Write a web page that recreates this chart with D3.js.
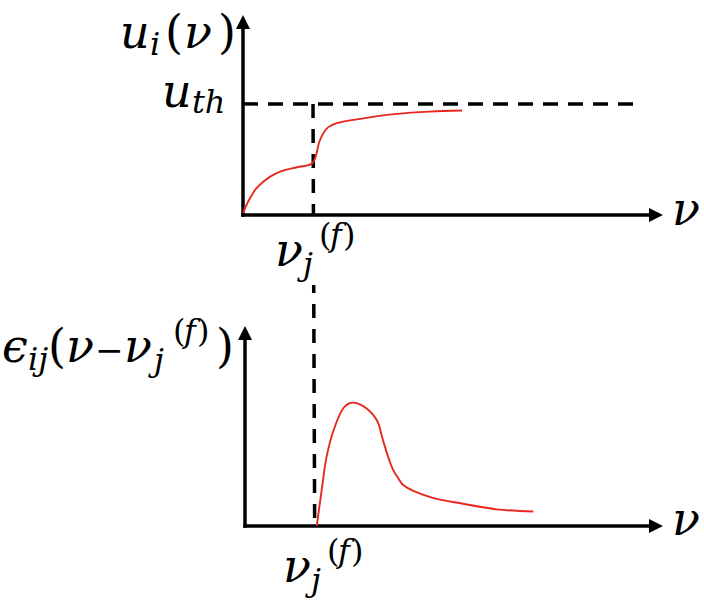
<!DOCTYPE html>
<html>
<head>
<meta charset="utf-8">
<script src="https://cdn.jsdelivr.net/npm/d3@7"></script>
<style>
  html, body { margin: 0; padding: 0; background: #fff; }
  svg { display: block; }
</style>
</head>
<body>
<svg id="chart" width="704" height="612"></svg>
<script>
// top panel: membrane potential u_i(nu)
const topNu = [0, 0.05, 0.1, 0.19, 0.29, 0.4, 0.53, 0.77, 0.98, 1.03, 1.1, 1.2, 1.34, 1.72, 2.2, 2.67, 3.13];
const topU = [0.02, 0.09, 0.15, 0.24, 0.3, 0.35, 0.39, 0.43, 0.46, 0.51, 0.675, 0.78, 0.826, 0.87, 0.91, 0.93, 0.94];

// bottom panel: kernel eps_ij(nu - nu_j^(f))
const botNu = [1.03, 1.1, 1.17, 1.27, 1.41, 1.48, 1.56, 1.65, 1.75, 1.84, 1.91, 1.96, 2.01, 2.07, 2.13, 2.2, 2.27, 2.66, 3.13, 3.61, 4.14];
const botEps = [0, 0.32, 0.62, 0.86, 1.06, 1.1, 1.11, 1.095, 1.055, 1.0, 0.93, 0.82, 0.71, 0.595, 0.50, 0.43, 0.37, 0.26, 0.20, 0.15, 0.13];

const uTh = 1;        // threshold level
const nuF = 1;        // firing time nu_j^(f)
const thEnd = 5.67;   // where the dashed threshold line stops
const nuMax = 6, yMax = 1.8;

const red = "#e8281e";
const mathFont = "DejaVu Serif";

var svg = d3.select("#chart");
var gGuides = svg.append("g");
var gMask = svg.append("g");
var gAxes = svg.append("g");
var gCurves = svg.append("g");
var gLabels = svg.append("g").style("font-family", mathFont);

var xTop = d3.scaleLinear([0, nuMax], [243, 663]);
var yTop = d3.scaleLinear([0, yMax], [215, 15]);
var xBot = d3.scaleLinear([0, nuMax], [245, 663]);
var yBot = d3.scaleLinear([0, yMax], [526, 326]);

// dashed guides
gGuides.attr("stroke", "#000").attr("stroke-width", 3.5).attr("fill", "none");

gGuides.append("line")
  .attr("x1", xTop(0)).attr("y1", yTop(uTh))
  .attr("x2", xTop(thEnd)).attr("y2", yTop(uTh))
  .attr("stroke-dasharray", "15,10");

gGuides.append("line")
  .attr("x1", xTop(nuF)).attr("y1", yTop(uTh))
  .attr("x2", xBot(nuF)).attr("y2", yBot(0))
  .attr("stroke-dasharray", "14,11");

// axes with arrow heads
function drawAxes(x, y) {
  var g = gAxes.append("g");
  var head = 14, half = 7;
  g.append("line")
    .attr("x1", x(0)).attr("y1", y(0) + 1.75)
    .attr("x2", x(0)).attr("y2", y(yMax) + head - 1)
    .attr("stroke", "#000").attr("stroke-width", 3.5);
  g.append("line")
    .attr("x1", x(0) - 1.75).attr("y1", y(0))
    .attr("x2", x(nuMax) - head + 1).attr("y2", y(0))
    .attr("stroke", "#000").attr("stroke-width", 3.5);
  g.append("path")
    .attr("d", `M${x(0)},${y(yMax)} L${x(0) - half},${y(yMax) + head} L${x(0) + half},${y(yMax) + head} Z`)
    .attr("fill", "#000");
  g.append("path")
    .attr("d", `M${x(nuMax)},${y(0)} L${x(nuMax) - head},${y(0) - half} L${x(nuMax) - head},${y(0) + half} Z`)
    .attr("fill", "#000");
}
drawAxes(xTop, yTop);
drawAxes(xBot, yBot);

// red curves
var lineTop = d3.line()
  .x((d, i) => xTop(topNu[i]))
  .y(d => yTop(d))
  .curve(d3.curveCatmullRom.alpha(0.5));
gCurves.append("path")
  .attr("d", lineTop(topU))
  .attr("fill", "none").attr("stroke", red).attr("stroke-width", 1.9);

var lineBot = d3.line()
  .x((d, i) => xBot(botNu[i]))
  .y(d => yBot(d))
  .curve(d3.curveCatmullRom.alpha(0.5));
gCurves.append("path")
  .attr("d", lineBot(botEps))
  .attr("fill", "none").attr("stroke", red).attr("stroke-width", 1.9);

// math labels: pieces are [text, dx, dy, size, italic]
function label(x0, y0, pieces, masked) {
  var t = gLabels.append("text").attr("fill", "#000");
  pieces.forEach(p => {
    t.append("tspan")
      .attr("x", x0 + p[1])
      .attr("y", y0 + p[2])
      .style("font-size", p[3] + "px")
      .style("font-style", p[4] ? "italic" : "normal")
      .text(p[0]);
  });
  if (masked) {
    var b = t.node().getBBox();
    gMask.append("rect")
      .attr("x", b.x - 2).attr("y", b.y - 2)
      .attr("width", b.width + 4).attr("height", b.height + 4)
      .attr("fill", "#fff");
  }
  return t;
}

const nuFPieces = [["ν", 0, 0, 46, true], ["j", 28, 9, 32, true], ["(", 44, -20, 32, false], ["f", 55, -20, 32, true], [")", 68, -20, 32, false]];

label(120, 48, [["u", 0, 0, 46, true], ["i", 30, 7, 32, true], ["(", 45, 0, 46, false], ["ν", 64, 0, 46, true], [")", 98, 0, 46, false]]);
label(162, 107, [["u", 0, 0, 46, true], ["th", 30, 6, 32, true]]);
label(672, 225, [["ν", 0, 0, 46, true]]);
label(672, 535, [["ν", 0, 0, 46, true]]);
label(275, 266, nuFPieces, true);
label(283, 582, nuFPieces, true);
label(2, 362, [["ϵ", 0, 0, 46, true], ["ij", 26, 8, 32, true], ["(", 46, 0, 46, false], ["ν", 64, 0, 46, true],
               ["−", 93, 0, 34, false], ["ν", 122, 0, 46, true], ["j", 152, 9, 32, true],
               ["(", 171, -20, 32, false], ["f", 182, -20, 32, true], [")", 195, -20, 32, false], [")", 214, 0, 46, false]]);
</script>
</body>
</html>
